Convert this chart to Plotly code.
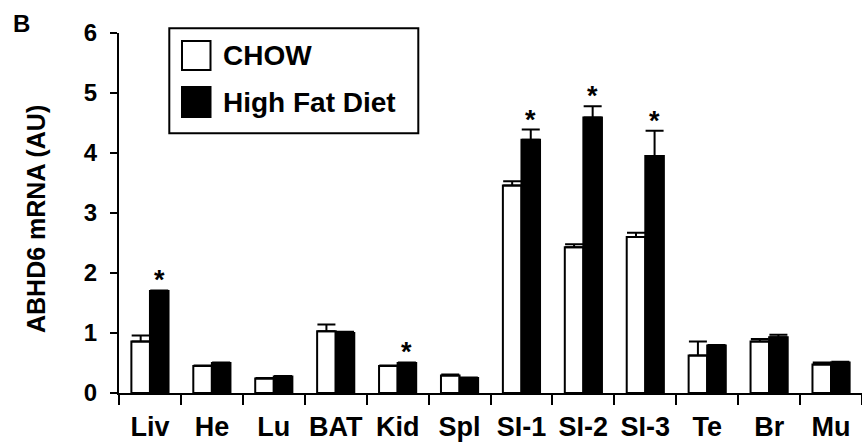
import plotly.graph_objects as go

categories = ["Liv", "He", "Lu", "BAT", "Kid", "Spl", "SI-1", "SI-2", "SI-3", "Te", "Br", "Mu"]
chow = [0.86, 0.45, 0.24, 1.03, 0.45, 0.29, 3.46, 2.43, 2.60, 0.625, 0.86, 0.475]
chow_err = [0.10, 0.01, 0.01, 0.11, 0.01, 0.02, 0.07, 0.05, 0.07, 0.235, 0.04, 0.035]
hfd = [1.70, 0.50, 0.275, 1.00, 0.50, 0.25, 4.22, 4.59, 3.95, 0.79, 0.93, 0.51]
hfd_err = [0.01, 0.01, 0.01, 0.02, 0.01, 0.01, 0.17, 0.19, 0.42, 0.01, 0.04, 0.01]
significant = [True, False, False, False, True, False, True, True, True, False, False, False]
y_ticks = [0, 1, 2, 3, 4, 5, 6]

FONT = "Liberation Sans, Arial, sans-serif"
W, H = 862, 446
L, R, T, B = 119, 0, 33, 53
pw, ph = W - L - R, H - T - B

def px(xp):
    return (xp - L) / pw

def py(yp):
    return (H - B - yp) / ph

fig = go.Figure()
fig.add_trace(go.Bar(
    x=categories, y=chow, name="CHOW",
    marker=dict(color="white", line=dict(color="black", width=2)),
    error_y=dict(type="data", array=chow_err, arrayminus=[0] * len(chow_err), symmetric=False,
                 color="black", thickness=2, width=9),
    showlegend=False,
))
fig.add_trace(go.Bar(
    x=categories, y=hfd, name="High Fat Diet",
    marker=dict(color="black", line=dict(color="black", width=2)),
    error_y=dict(type="data", array=hfd_err, arrayminus=[0] * len(hfd_err), symmetric=False,
                 color="black", thickness=2, width=9),
    showlegend=False,
))

# significance stars above the High Fat Diet bars
cat_px = pw / len(categories)
for c, v, e, s in zip(categories, hfd, hfd_err, significant):
    if s:
        fig.add_annotation(x=c, y=v + e, xref="x", yref="y", text="*", showarrow=False,
                           xanchor="center", yanchor="bottom", xshift=0.15 * cat_px, yshift=-7,
                           font=dict(family=FONT, size=27, color="black", weight="bold"))

# manual legend
fig.add_shape(type="rect", xref="paper", yref="paper", x0=px(169.3), x1=px(418.3), y0=py(133.3), y1=py(28.3),
              line=dict(color="black", width=2), fillcolor="white")
fig.add_shape(type="rect", xref="paper", yref="paper", x0=px(182), x1=px(210.5), y0=py(70), y1=py(41),
              line=dict(color="black", width=2), fillcolor="white")
fig.add_shape(type="rect", xref="paper", yref="paper", x0=px(182), x1=px(210.5), y0=py(117), y1=py(87),
              line=dict(color="black", width=2), fillcolor="black")
fig.add_annotation(text="CHOW", xref="paper", yref="paper", x=px(221), y=py(55.5), showarrow=False,
                   xanchor="left", yanchor="middle", font=dict(family=FONT, size=28, color="black", weight="bold"))
fig.add_annotation(text="High Fat Diet", xref="paper", yref="paper", x=px(221), y=py(102), showarrow=False,
                   xanchor="left", yanchor="middle", font=dict(family=FONT, size=28, color="black", weight="bold"))

# y axis title and panel label
fig.add_annotation(text="ABHD6 mRNA (AU)", xref="paper", yref="paper", x=px(36), y=py(219), showarrow=False,
                   textangle=-90, xanchor="center", yanchor="middle",
                   font=dict(family=FONT, size=25, color="black", weight="bold"))
fig.add_annotation(text="B", xref="paper", yref="paper", x=px(21), y=py(23), showarrow=False,
                   xanchor="center", yanchor="middle",
                   font=dict(family=FONT, size=24, color="black", weight="bold"))

fig.update_layout(
    width=W, height=H,
    margin=dict(l=L, r=R, t=T, b=B, pad=0, autoexpand=False),
    paper_bgcolor="white", plot_bgcolor="white",
    barmode="group", bargap=0.4, bargroupgap=0,
    font=dict(family=FONT, color="black"),
)
fig.update_xaxes(
    showline=True, linecolor="black", linewidth=2, tickson="boundaries",
    ticks="outside", ticklen=10, tickwidth=2, tickcolor="black", tickangle=0, automargin=False,
    tickfont=dict(family=FONT, size=27, color="black", weight="bold"),
    ticklabelstandoff=9, showgrid=False, zeroline=False,
)
fig.update_yaxes(
    range=[0, 6], tickvals=y_ticks, showline=True, linecolor="black", linewidth=2, automargin=False,
    ticks="outside", ticklen=7, tickwidth=2, tickcolor="black",
    tickfont=dict(family=FONT, size=24, color="black", weight="bold"),
    ticklabelstandoff=8, showgrid=False, zeroline=False,
)

fig.write_html("out.html", config={"displayModeBar": False},
               post_script="document.body.style.margin='0';document.body.style.overflow='hidden';")
